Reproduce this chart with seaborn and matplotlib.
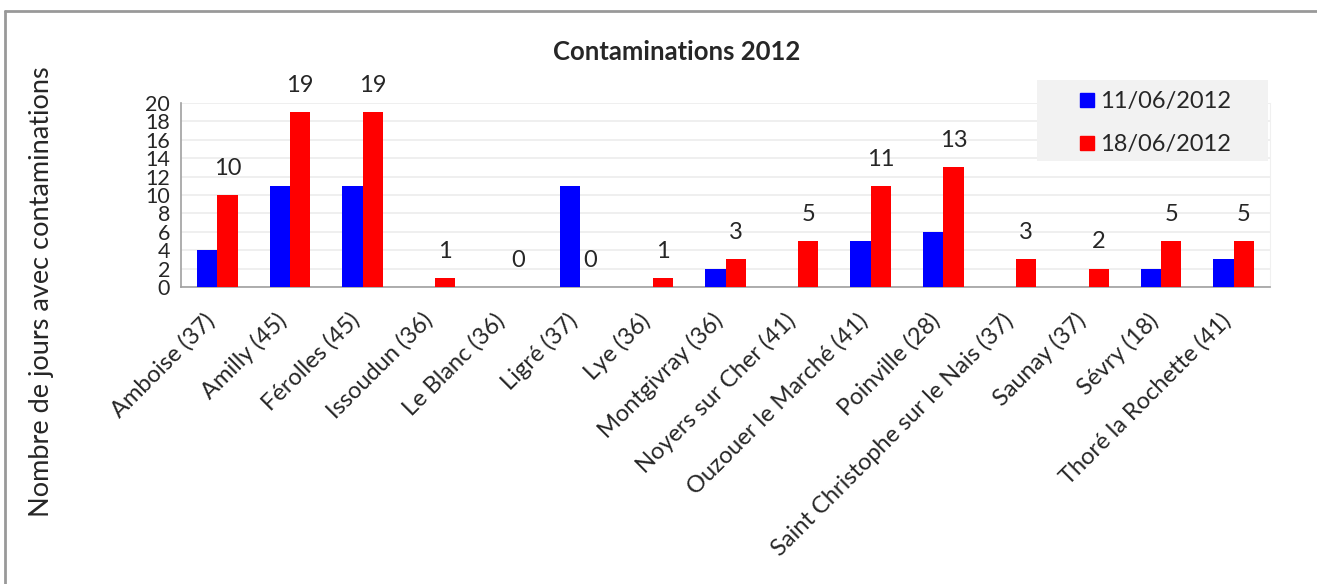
import pandas as pd
import matplotlib
matplotlib.use('Agg')
import matplotlib.pyplot as plt
import matplotlib.transforms as mtransforms
import seaborn as sns
from matplotlib.lines import Line2D
from matplotlib.patches import Rectangle

# data
communes = ['Amboise (37)', 'Amilly (45)', 'Férolles (45)', 'Issoudun (36)', 'Le Blanc (36)',
            'Ligré (37)', 'Lye (36)', 'Montgivray (36)', 'Noyers sur Cher (41)',
            'Ouzouer le Marché (41)', 'Poinville (28)', 'Saint Christophe sur le Nais (37)',
            'Saunay (37)', 'Sévry (18)', 'Thoré la Rochette (41)']
dates = ['11/06/2012', '18/06/2012']
jours_1106 = [4, 11, 11, 0, 0, 11, 0, 2, 0, 5, 6, 0, 0, 2, 3]
jours_1806 = [10, 19, 19, 1, 0, 0, 1, 3, 5, 11, 13, 3, 2, 5, 5]
couleurs = ['#0000FF', '#FF0000']

df = pd.DataFrame({
    'commune': communes * 2,
    'date': [dates[0]] * len(communes) + [dates[1]] * len(communes),
    'jours': jours_1106 + jours_1806,
})

sns.set_style('white')
plt.rcParams['font.family'] = ['Lato', 'DejaVu Sans']

W, H = 1317, 584
fig = plt.figure(figsize=(W / 100, H / 100), dpi=100)
ax = fig.add_axes([181 / W, 1 - 287 / H, 1089 / W, 184 / H])

sns.barplot(data=df, x='commune', y='jours', hue='date', palette=couleurs,
            width=0.56, gap=0, saturation=1, errorbar=None, linewidth=0, ax=ax, zorder=3)

# value labels above the red bars
for i, v in enumerate(jours_1806):
    ax.text(i + 0.14, v + 2.2, str(v), ha='center', va='baseline', fontsize=17)

ax.set_xlim(-0.5, len(communes) - 0.5)
ax.set_ylim(0, 20)
ax.set_yticks(range(0, 21, 2))
ax.yaxis.grid(True, color='#ececec', linewidth=1.2, zorder=0)
ax.set_axisbelow(True)

ax.set_xticks([i + 0.5 for i in range(-1, len(communes))], minor=True)
ax.tick_params(axis='x', which='major', length=0, pad=16)
ax.tick_params(axis='x', which='minor', length=8, color='#a0a0a0', width=1.2)
ax.tick_params(axis='y', length=5, color='#a0a0a0', width=1.2, labelsize=15.5, pad=3)
ax.set_xticklabels(communes, rotation=45, ha='right', rotation_mode='anchor', fontsize=17)
shift = mtransforms.ScaledTranslation(-14 / 100, 0, fig.dpi_scale_trans)
for lab in ax.get_xticklabels():
    lab.set_transform(lab.get_transform() + shift)

ax.spines['top'].set_visible(False)
ax.spines['right'].set_color('#f0f0f0')
ax.spines['left'].set_color('#a0a0a0')
ax.spines['bottom'].set_color('#a0a0a0')
ax.spines['left'].set_linewidth(1.2)
ax.spines['bottom'].set_linewidth(1.2)

ax.set_xlabel('')
ax.set_ylabel('')
fig.text(42 / W, 1 - 292 / H, 'Nombre de jours avec contaminations', rotation=90,
         ha='center', va='center', fontsize=19.5)
fig.text(677 / W, 1 - 52 / H, 'Contaminations 2012', ha='center', va='center',
         fontsize=18.5, fontweight='bold')

# legend on a light grey box
ax.get_legend().remove()
fig.add_artist(Rectangle((1037 / W, 1 - 161 / H), 231 / W, 81 / H, transform=fig.transFigure,
                         facecolor='#f2f2f2', edgecolor='none', zorder=5))
handles = [Line2D([], [], marker='s', linestyle='', markersize=9.5, color=c) for c in couleurs]
leg = fig.legend(handles, dates, loc='upper left',
                 bbox_to_anchor=(1075 / W, 1 - 91 / H), fontsize=17,
                 frameon=False, handlelength=1, handletextpad=0.05,
                 borderpad=0, labelspacing=0.95, borderaxespad=0)
leg.set_zorder(6)

# outer frame (left and top only visible)
fig.add_artist(Line2D([5 / W, 5 / W], [0, 1 - 11 / H], color='#999999', linewidth=2))
fig.add_artist(Line2D([5 / W, 1], [1 - 11 / H, 1 - 11 / H], color='#999999', linewidth=2))

fig.savefig('out.png', dpi=100)
